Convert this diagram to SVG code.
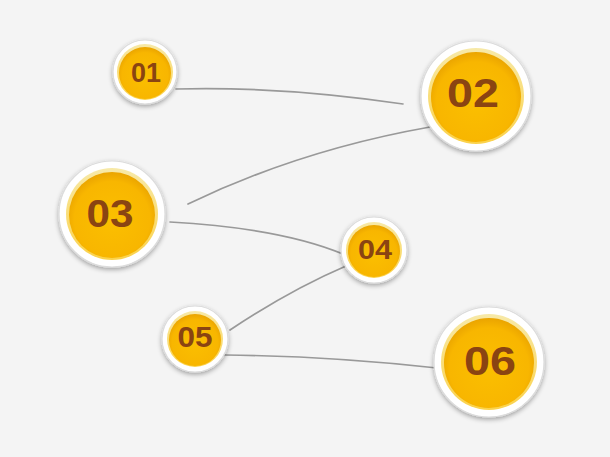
<svg xmlns="http://www.w3.org/2000/svg" width="610" height="457" viewBox="0 0 610 457">
<defs>
<radialGradient id="yel" cx="50%" cy="55%" r="55%">
<stop offset="0" stop-color="#fbbf00"/>
<stop offset="0.8" stop-color="#f8b600"/>
<stop offset="1" stop-color="#eaa400"/>
</radialGradient>
<linearGradient id="ring" x1="0" y1="0" x2="0" y2="1">
<stop offset="0" stop-color="#f7e9a8"/>
<stop offset="1" stop-color="#fbd24a"/>
</linearGradient>
<filter id="sh" x="-30%" y="-30%" width="160%" height="160%">
<feGaussianBlur in="SourceAlpha" stdDeviation="2.5"/>
<feOffset dx="0" dy="2" result="b"/>
<feComponentTransfer><feFuncA type="linear" slope="0.35"/></feComponentTransfer>
<feMerge><feMergeNode/><feMergeNode in="SourceGraphic"/></feMerge>
</filter>
</defs>
<style>
.outer{fill:#ffffff;stroke:#dcdcdc;stroke-width:1.2;filter:url(#sh)}
.band{fill:url(#ring)}
.core{fill:url(#yel)}
.lbl{font-family:"Liberation Sans",Arial,sans-serif;font-weight:bold;fill:#8a4412;text-anchor:middle}
.con{fill:none;stroke:#999999;stroke-width:1.7;stroke-linecap:round}
</style>
<rect width="610" height="457" fill="#f4f4f4"/>
<g id="connectors">
<path class="con" d="M176,89 Q280,86 403,104"/>
<path class="con" d="M188,204 Q300,150 430,127"/>
<path class="con" d="M170,222 Q280,228 343,254"/>
<path class="con" d="M230,330 Q290,290 346,266"/>
<path class="con" d="M225,355 Q330,356 437,368"/>
</g>
<g id="n01">
<circle class="outer" cx="145" cy="72" r="32"/>
<circle class="band" cx="145" cy="72" r="28"/>
<circle class="core" cx="145" cy="73" r="26"/>
<text class="lbl" x="146" y="82" font-size="28" textLength="30" lengthAdjust="spacingAndGlyphs">01</text>
</g>
<g id="n02">
<circle class="outer" cx="476" cy="96" r="55"/>
<circle class="band" cx="476" cy="96" r="48"/>
<circle class="core" cx="476" cy="97" r="45"/>
<text class="lbl" x="473" y="107" font-size="41" textLength="52" lengthAdjust="spacingAndGlyphs">02</text>
</g>
<g id="n03">
<circle class="outer" cx="112" cy="214" r="53"/>
<circle class="band" cx="112" cy="214" r="46"/>
<circle class="core" cx="112" cy="215" r="43"/>
<text class="lbl" x="110" y="227" font-size="38" textLength="47" lengthAdjust="spacingAndGlyphs">03</text>
</g>
<g id="n04">
<circle class="outer" cx="374" cy="250" r="33"/>
<circle class="band" cx="374" cy="250" r="28"/>
<circle class="core" cx="374" cy="251" r="26"/>
<text class="lbl" x="375" y="259" font-size="28" textLength="34" lengthAdjust="spacingAndGlyphs">04</text>
</g>
<g id="n05">
<circle class="outer" cx="195" cy="339" r="33"/>
<circle class="band" cx="195" cy="339" r="28"/>
<circle class="core" cx="195" cy="340" r="26"/>
<text class="lbl" x="195" y="347" font-size="29" textLength="35" lengthAdjust="spacingAndGlyphs">05</text>
</g>
<g id="n06">
<circle class="outer" cx="489" cy="362" r="55"/>
<circle class="band" cx="489" cy="362" r="48"/>
<circle class="core" cx="489" cy="363" r="45"/>
<text class="lbl" x="490" y="375" font-size="40" textLength="52" lengthAdjust="spacingAndGlyphs">06</text>
</g>
</svg>
